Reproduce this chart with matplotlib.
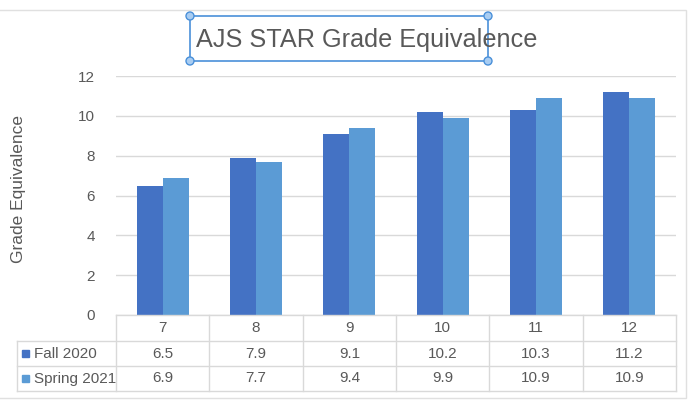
"""AJS STAR grade equivalence chart with an Excel-style data table under the bars."""

import matplotlib.pyplot as plt
import matplotlib.transforms as mtransforms
from matplotlib.lines import Line2D
from matplotlib.patches import Rectangle, Circle
import numpy as np

plt.rcParams["font.family"] = ["Liberation Sans", "DejaVu Sans"]

grades = ["7", "8", "9", "10", "11", "12"]
fall_2020 = [6.5, 7.9, 9.1, 10.2, 10.3, 11.2]
spring_2021 = [6.9, 7.7, 9.4, 9.9, 10.9, 10.9]
series_names = ["Fall 2020", "Spring 2021"]
y_ticks = [0, 2, 4, 6, 8, 10, 12]

colors = ["#4472C4", "#5B9BD5"]
text_color = "#595959"
grid_color = "#d9d9d9"

W, H = 694, 403
fig = plt.figure(figsize=(W / 100, H / 100), dpi=100)
fig.patch.set_facecolor("white")


def fx(px):
    return px / W


def fy(py):
    return 1 - py / H


# outer chart frame
fig.add_artist(Rectangle((fx(-2), fy(398)), fx(688), (398 - 10) / H, transform=fig.transFigure,
                         fill=False, edgecolor="#e0e0e0", linewidth=1))

ax = fig.add_axes([fx(116), fy(315), fx(560), (315 - 76) / H])
x = np.arange(len(grades))
bw = 0.28
ax.bar(x - bw / 2, fall_2020, bw, color=colors[0], zorder=3)
ax.bar(x + bw / 2, spring_2021, bw, color=colors[1], zorder=3)
ax.set_xlim(-0.5, len(grades) - 0.5)
ax.set_ylim(0, 12)
ax.set_yticks(y_ticks)
ax.set_xticks([])
ax.tick_params(axis="y", length=0, pad=15, labelsize=11, labelcolor=text_color)
ax.grid(axis="y", color=grid_color, linewidth=1, zorder=0)
for s in ax.spines.values():
    s.set_visible(False)
fig.text(fx(19), fy(189), "Grade Equivalence", rotation=90, ha="center", va="center",
         fontsize=12.5, color=text_color)

# data table: x in data units, y in figure units
tr = mtransforms.blended_transform_factory(ax.transData, fig.transFigure)
rows_y = [315, 341, 366, 391]
left_px = 17
x0, x1 = -0.5, len(grades) - 0.5
lc = grid_color

# horizontal lines
fig.add_artist(Line2D([x0, x1], [fy(315)] * 2, transform=tr, color=lc, lw=1))
for py in rows_y[1:]:
    fig.add_artist(Line2D([fx(left_px), fx(676)], [fy(py)] * 2,
                          transform=fig.transFigure, color=lc, lw=1))
# vertical lines
for xv in np.arange(len(grades) + 1) - 0.5:
    fig.add_artist(Line2D([xv, xv], [fy(315), fy(391)], transform=tr, color=lc, lw=1,
                          zorder=5))
fig.add_artist(Line2D([fx(left_px)] * 2, [fy(341), fy(391)],
                      transform=fig.transFigure, color=lc, lw=1))

for i, g in enumerate(grades):
    fig.text(i, fy(328), g, transform=tr, ha="center", va="center",
             fontsize=11, color=text_color)
for r, (vals, name, c) in enumerate(zip([fall_2020, spring_2021], series_names, colors)):
    yc = fy((rows_y[r + 1] + rows_y[r + 2]) / 2)
    for i, v in enumerate(vals):
        fig.text(i, yc, f"{v:g}", transform=tr, ha="center",
                 va="center", fontsize=11, color=text_color)
    fig.add_artist(Rectangle((fx(22), yc - 3.5 / H), fx(7), 7 / H,
                             transform=fig.transFigure, color=c))
    fig.text(fx(34), yc, name, ha="left", va="center", fontsize=11, color=text_color,
             zorder=1)

# title with selection box
fig.text(fx(196), fy(47), "AJS STAR Grade Equivalence", ha="left", va="baseline",
         fontsize=18.2, color=text_color)
sel = "#4a90d9"
bx0, bx1, by0, by1 = 190, 488, 16, 61
fig.add_artist(Rectangle((fx(bx0), fy(by1)), fx(bx1 - bx0), (by1 - by0) / H,
                         transform=fig.transFigure, fill=False, edgecolor=sel, lw=1.2))
for cx in (bx0, bx1):
    for cy in (by0, by1):
        fig.add_artist(Circle((cx, H - cy), 4, transform=None, facecolor="#a9cdf2",
                              edgecolor=sel, lw=1, zorder=10))

fig.savefig("out.png", dpi=100)
